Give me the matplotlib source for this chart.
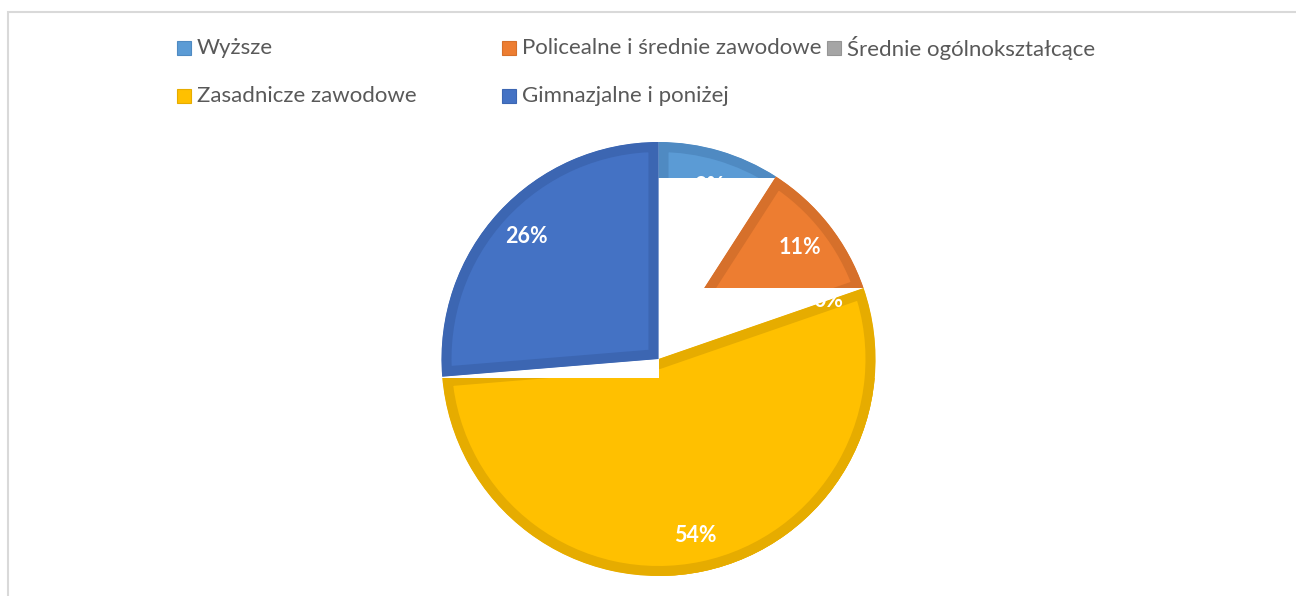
import matplotlib.pyplot as plt
from matplotlib.patches import Rectangle, Wedge
from matplotlib.transforms import Bbox, TransformedBbox

# dane
categories = ['Wyższe', 'Policealne i średnie zawodowe', 'Średnie ogólnokształcące',
              'Zasadnicze zawodowe', 'Gimnazjalne i poniżej']
shares = [9.1, 10.6, 0.0, 54.0, 26.3]
colors = ['#5B9BD5', '#ED7D31', '#A5A5A5', '#FFC000', '#4472C4']
edge_colors = ['#4F8AC2', '#D6702B', '#959595', '#E6AC00', '#3C66B2']

plt.rcParams['font.family'] = ['Lato', 'DejaVu Sans']

W, H = 1296, 596
fig = plt.figure(figsize=(W / 100, H / 100), dpi=100)
fig.patch.set_facecolor('white')

# ramka wykresu (jak w Excelu)
fig.add_artist(Rectangle((7.5 / W, -0.1), 1.2, (H - 12) / H + 0.1, transform=fig.transFigure,
                         fill=False, edgecolor='#D9D9D9', linewidth=1.5))

# geometria kola w pikselach
cx, cy, r = 658.5, 359, 217
half = 1.3 * r
ax = fig.add_axes([(cx - half) / W, (H - cy - half) / H, 2 * half / W, 2 * half / H])

wedges, _, autotexts = ax.pie(
    shares, colors=colors, startangle=90, counterclock=False, radius=1,
    autopct='%.0f%%', pctdistance=0.83,
    wedgeprops=dict(linewidth=14.4),
    textprops=dict(color='white', fontsize=15.5, fontweight='bold'))
ax.set_xlim(-1.3, 1.3)
ax.set_ylim(-1.3, 1.3)
ax.axis('off')

# obszary widoczne poszczegolnych wycinkow (artefakt renderowania z oryginalu)
visible = {
    0: [(-2, 0.834, 2, 2)],
    1: [(-2, 0.327, 2, 2)],
    2: [(-2, -2, 2, 2)],
    3: [(0, -2, 2, 2), (-2, -2, 2, -0.087)],
    4: [(-2, -2, 2, 2)],
}

for i, w in enumerate(wedges):
    w.set_edgecolor(edge_colors[i])
    boxes = visible[i]
    parts = [w]
    for _ in boxes[1:]:
        extra = Wedge((0, 0), 1, w.theta1, w.theta2, facecolor=colors[i],
                      edgecolor=edge_colors[i], linewidth=14.4)
        ax.add_patch(extra)
        parts.append(extra)
    for p, (x0, y0, x1, y1) in zip(parts, boxes):
        # obramowanie tylko do wewnatrz wycinka
        p.set_clip_on(True)
        p.set_clip_path(p)
        p.set_clip_box(TransformedBbox(Bbox([[x0, y0], [x1, y1]]), ax.transData))

for t in autotexts:
    t.set_zorder(5)

# legenda (dwa wiersze, rowne kolumny)
col_x = [177, 502, 827]
row_y = [48, 96]
sq = 14
for i, name in enumerate(categories):
    row, col = divmod(i, 3)
    x0 = col_x[col]
    yc = row_y[row]
    fig.add_artist(Rectangle((x0 / W, (H - yc - sq / 2) / H), sq / W, sq / H,
                             transform=fig.transFigure, facecolor=colors[i],
                             edgecolor=edge_colors[i], linewidth=0.8))
    fig.text((x0 + 20) / W, (H - yc) / H, name, fontsize=16, color='#595959',
             va='center', ha='left')

fig.savefig('out.png', dpi=100, facecolor='white')
